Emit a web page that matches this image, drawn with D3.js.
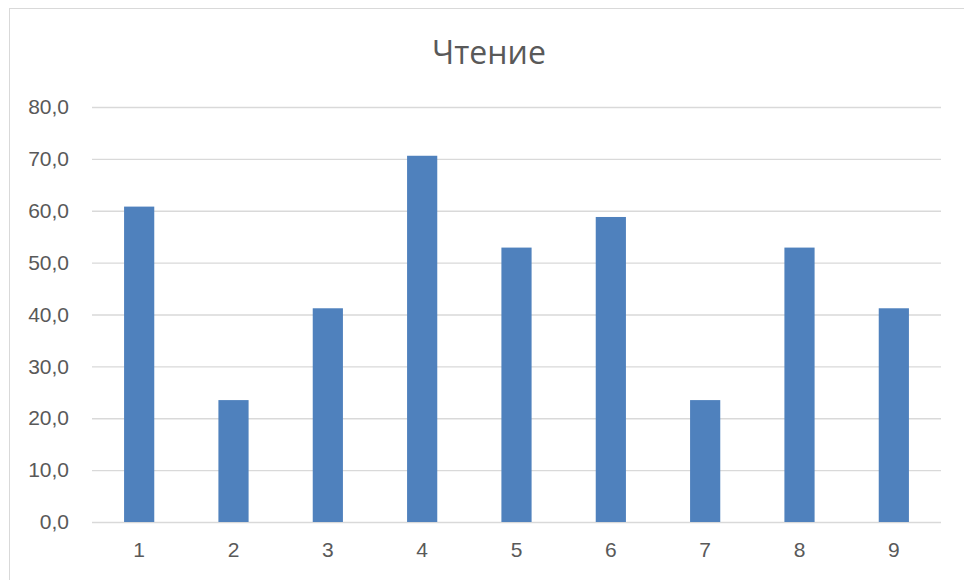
<!DOCTYPE html>
<html>
<head>
<meta charset="utf-8">
<script src="https://cdn.jsdelivr.net/npm/d3@7"></script>
<style>
  body { margin: 0; background: #fff; }
  svg { display: block; font-family: "Open Sans", "Noto Sans", sans-serif; }
</style>
</head>
<body>
<div id="chart"></div>
<script>
// chart data
const categories = ["1", "2", "3", "4", "5", "6", "7", "8", "9"];
const values = [60.8, 23.5, 41.2, 70.6, 52.9, 58.8, 23.5, 52.9, 41.2];
const yTicks = [0, 10, 20, 30, 40, 50, 60, 70, 80];
const title = "Чтение";

let width = 964;
let height = 580;
let margin = {top: 107, right: 23, bottom: 58, left: 92};

let svg = d3.select("#chart")
    .append("svg")
    .attr("width", width)
    .attr("height", height);

// outer frame of the chart area
svg.append("rect")
    .attr("x", 9.5).attr("y", 8.5)
    .attr("width", width).attr("height", height)
    .attr("fill", "none")
    .attr("stroke", "#d9d9d9");

let x = d3.scaleBand()
    .domain(categories)
    .range([margin.left, width - margin.right])
    .paddingInner(0.68)
    .paddingOuter(0.34);

let y = d3.scaleLinear()
    .domain([0, 80])
    .range([height - margin.bottom, margin.top]);

// gridlines + y labels
let yAxis = d3.axisLeft(y)
    .tickValues(yTicks)
    .tickSize(-(width - margin.right - margin.left))
    .tickPadding(23)
    .tickFormat(d => d3.format(".1f")(d).replace(".", ","));

let gy = svg.append("g")
    .attr("transform", `translate(${margin.left},0)`)
    .call(yAxis);
gy.select(".domain").remove();
gy.selectAll(".tick line").attr("stroke", "#d9d9d9").attr("stroke-width", 1.3);
gy.selectAll(".tick text")
    .attr("fill", "#595959")
    .style("font-size", "21px");

// bars
svg.selectAll("rect.bar")
    .data(values)
    .join("rect")
    .attr("class", "bar")
    .attr("x", (d, i) => x(categories[i]))
    .attr("width", x.bandwidth())
    .attr("y", d => y(d))
    .attr("height", d => y(0) - y(d))
    .attr("fill", "#4f81bd");

// x labels
let xAxis = d3.axisBottom(x).tickSize(0).tickPadding(20);
let gx = svg.append("g")
    .attr("transform", `translate(0,${y(0)})`)
    .call(xAxis);
gx.select(".domain").remove();
gx.selectAll(".tick text")
    .attr("fill", "#595959")
    .style("font-size", "21px");

// title
svg.append("text")
    .attr("x", 489)
    .attr("y", 64)
    .attr("text-anchor", "middle")
    .attr("fill", "#595959")
    .style("font-size", "32px")
    .text(title);
</script>
</body>
</html>
